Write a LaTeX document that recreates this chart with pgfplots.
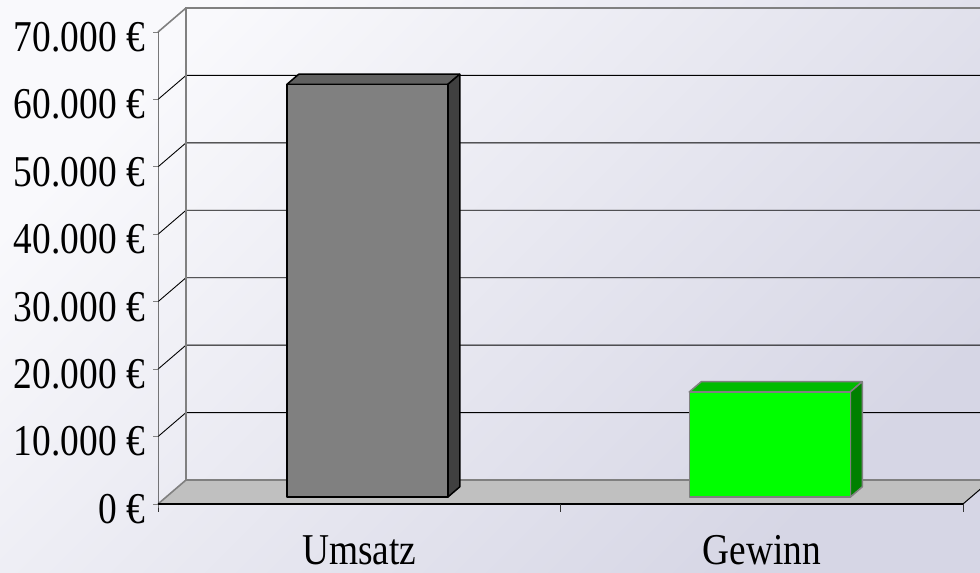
\documentclass[border=0pt]{standalone}
\usepackage{pgfplots}
\pgfplotsset{compat=1.18}
\usepackage{pgfplotstable}
\usepackage{graphicx}
\usepackage{fontspec}
\setmainfont{Liberation Serif}
\newcommand{\sq}[1]{\scalebox{0.85}[1]{#1}}
\definecolor{bgA}{RGB}{249,249,252}
\definecolor{bgB}{RGB}{214,214,229}
\definecolor{floorc}{RGB}{192,192,192}
\definecolor{wallc}{RGB}{128,128,128}
\definecolor{uFront}{RGB}{128,128,128}
\definecolor{uTop}{RGB}{96,96,96}
\definecolor{uSide}{RGB}{64,64,64}
\definecolor{gFront}{RGB}{0,255,0}
\definecolor{gTop}{RGB}{0,187,0}
\definecolor{gSide}{RGB}{0,128,0}
\def\dx{0.0696}
\def\dy{3560}
\newcommand\barfaces[5]{%
  \pgfplotstablegetelem{#1}{x}\of\datatable \edef\cx{\pgfplotsretval}%
  \pgfplotstablegetelem{#1}{value}\of\datatable \edef\vv{\pgfplotsretval}%
  \edef\xl{\fpeval{\cx-0.2+0.286*\dx}}%
  \edef\xr{\fpeval{\cx+0.2+0.286*\dx}}%
  \edef\xlb{\fpeval{\cx-0.2+0.714*\dx}}%
  \edef\xrb{\fpeval{\cx+0.2+0.714*\dx}}%
  \edef\yf{\fpeval{0.286*\dy}}%
  \edef\yb{\fpeval{0.714*\dy}}%
  \edef\yft{\fpeval{\vv+0.286*\dy}}%
  \edef\ybt{\fpeval{\vv+0.714*\dy}}%
  \addplot[fill=#3, draw=#5, line width=1.5bp, line join=round] coordinates {(\xl,\yft) (\xr,\yft) (\xrb,\ybt) (\xlb,\ybt)} -- cycle;
  \addplot[fill=#4, draw=#5, line width=1.5bp, line join=round] coordinates {(\xr,\yf) (\xrb,\yb) (\xrb,\ybt) (\xr,\yft)} -- cycle;
  \addplot[fill=#2, draw=#5, line width=1.5bp, line join=round] coordinates {(\xl,\yf) (\xr,\yf) (\xr,\yft) (\xl,\yft)} -- cycle;
}
\begin{document}
\begin{tikzpicture}
\pgfplotstableread{
x value
0.5 61200
1.5 15600
}\datatable
\useasboundingbox (0,0) rectangle (980bp,573bp);
\begin{scope}
\clip (0,0) rectangle (980bp,573bp);
\shade[shading=axis, top color=bgA, bottom color=bgB, shading angle=45] (0,0) rectangle (980bp,573bp);
\begin{axis}[
  at={(158bp,69bp)}, anchor=south west,
  width=805bp, height=472bp, scale only axis,
  xmin=0, xmax=2, ymin=0, ymax=70000,
  clip=false,
  axis line style={draw=none},
  tick style={draw=none}, major tick length=0pt,
  scaled y ticks=false,
  xtick={0.5,1.5},
  xticklabels={\sq{Umsatz},\sq{Gewinn}},
  ytick={0,10000,20000,30000,40000,50000,60000,70000},
  yticklabels={\sq{0 €},\sq{10.000 €},\sq{20.000 €},\sq{30.000 €},\sq{40.000 €},\sq{50.000 €},\sq{60.000 €},\sq{70.000 €}},
  tick label style={font=\fontsize{44bp}{48bp}\selectfont, inner sep=0pt, text=black},
  yticklabel style={anchor=east, xshift=-13bp, yshift=-5bp},
  xticklabel style={anchor=base, yshift=-60bp},
]
% floor
\fill[floorc] (axis cs:0,0) -- (axis cs:2,0) -- (axis cs:2.0696,3560) -- (axis cs:0.0696,3560) -- cycle;
% grid lines on side and back wall
\draw[black, line width=0.9bp] (axis cs:0,10000) -- (axis cs:0.0696,13560) -- (axis cs:2.0696,13560);
\draw[black, line width=0.9bp] (axis cs:0,20000) -- (axis cs:0.0696,23560) -- (axis cs:2.0696,23560);
\draw[black, line width=0.9bp] (axis cs:0,30000) -- (axis cs:0.0696,33560) -- (axis cs:2.0696,33560);
\draw[black, line width=0.9bp] (axis cs:0,40000) -- (axis cs:0.0696,43560) -- (axis cs:2.0696,43560);
\draw[black, line width=0.9bp] (axis cs:0,50000) -- (axis cs:0.0696,53560) -- (axis cs:2.0696,53560);
\draw[black, line width=0.9bp] (axis cs:0,60000) -- (axis cs:0.0696,63560) -- (axis cs:2.0696,63560);
% wall borders
\draw[wallc, line width=1.6bp] (axis cs:0,0) -- (axis cs:0.0696,3560) -- (axis cs:2.0696,3560);
\draw[wallc, line width=1.6bp] (axis cs:0.0696,3560) -- (axis cs:0.0696,73560) -- (axis cs:2.0696,73560);
\draw[wallc, line width=1.6bp] (axis cs:0,70000) -- (axis cs:0.0696,73560);
% front axes
\draw[black!80, line width=1bp] (axis cs:0,70000) -- (axis cs:0,0) -- ++(0,-8bp);
\draw[black, line width=1.3bp] (axis cs:0,0) -- (axis cs:2,0);
\draw[black, line width=1bp] (axis cs:2,0) -- (axis cs:2.0696,3560);
\draw[black!80, line width=1bp] (axis cs:1,0) -- ++(0,-8bp);
\draw[black!80, line width=1bp] (axis cs:2,0) -- ++(0,-8bp);
\draw[wallc, line width=1bp] (axis cs:0,0) -- ++(-5bp,0);
\draw[wallc, line width=1bp] (axis cs:0,10000) -- ++(-5bp,0);
\draw[wallc, line width=1bp] (axis cs:0,20000) -- ++(-5bp,0);
\draw[wallc, line width=1bp] (axis cs:0,30000) -- ++(-5bp,0);
\draw[wallc, line width=1bp] (axis cs:0,40000) -- ++(-5bp,0);
\draw[wallc, line width=1bp] (axis cs:0,50000) -- ++(-5bp,0);
\draw[wallc, line width=1bp] (axis cs:0,60000) -- ++(-5bp,0);
\draw[wallc, line width=1bp] (axis cs:0,70000) -- ++(-5bp,0);
% bars
\barfaces{0}{uFront}{uTop}{uSide}{black}
\barfaces{1}{gFront}{gTop}{gSide}{wallc}
\end{axis}
\end{scope}
\end{tikzpicture}
\end{document}
